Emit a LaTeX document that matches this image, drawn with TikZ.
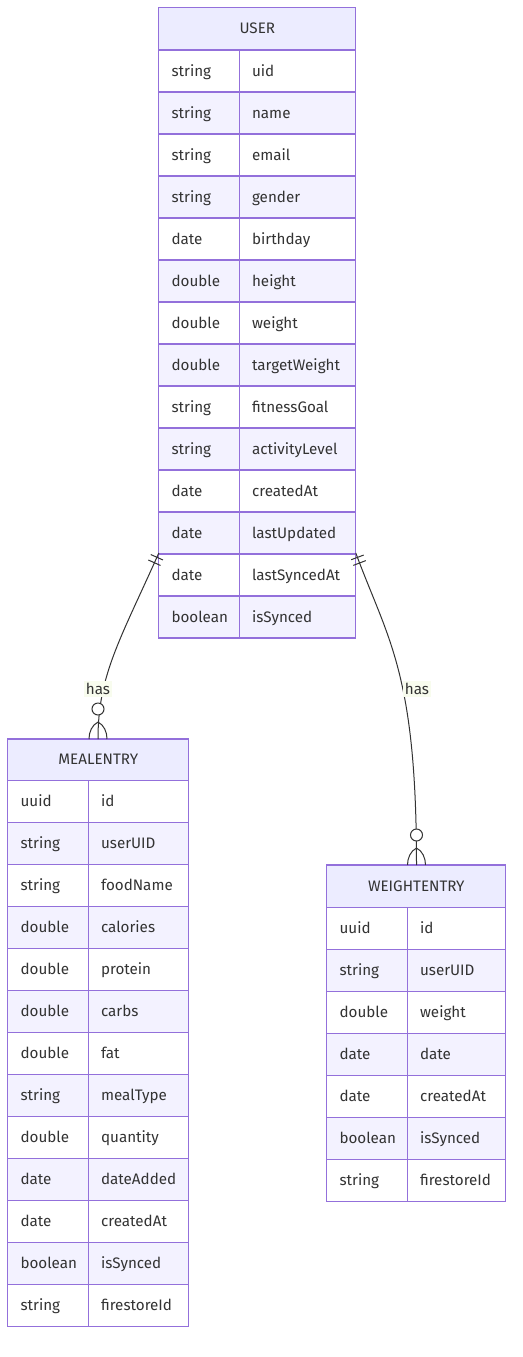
\documentclass[tikz,border=0pt]{standalone}
\usepackage{fontspec}
\setmainfont{Fira Sans}
\usetikzlibrary{decorations.markings}
\definecolor{erborder}{HTML}{9370DB}
\definecolor{erhead}{HTML}{ECECFF}
\definecolor{errow}{HTML}{F3F2FF}
\definecolor{ertext}{HTML}{333333}
\definecolor{erline}{HTML}{333333}
\definecolor{erlabel}{HTML}{F8FCEE}
\tikzset{
  box/.style={draw=erborder, line width=0.9pt},
  hdr/.style={box, fill=erhead},
  rowodd/.style={box, fill=white},
  roweven/.style={box, fill=errow},
  celltxt/.style={text=ertext, anchor=base west, inner sep=0pt},
  headtxt/.style={text=ertext, anchor=base, inner sep=0pt},
  rel/.style={draw=erline, line width=0.75pt},
  onlyone/.style={postaction={decorate, decoration={markings,
      mark=at position 3.5pt with {\draw[erline, line width=0.75pt] (0,-5pt) -- (0,5pt);},
      mark=at position 8pt with {\draw[erline, line width=0.75pt] (0,-5pt) -- (0,5pt);}}}},
  zerocircle/.style={draw=erline, fill=white, line width=0.75pt},
  crow/.style={draw=erline, line width=0.75pt},
  rellabel/.style={fill=erlabel, text=ertext, inner sep=1.5pt},
}
\newcommand\erentity[8]{%
  \draw[hdr] (#3,#6) rectangle (#5,#7);
  \node[headtxt] (#1) at ({(#3+#5)/2},{(#6+#7)/2+5}) {#2};
  \foreach [count=\i] \tt/\nn in {#8} {
    \pgfmathsetmacro\ya{#7+(\i-1)*42}
    \pgfmathsetmacro\yb{#7+\i*42}
    \ifodd\i \def\rs{rowodd}\else\def\rs{roweven}\fi
    \draw[\rs] (#3,\ya) rectangle (#4,\yb);
    \draw[\rs] (#4,\ya) rectangle (#5,\yb);
    \node[celltxt] (#1-t\i) at (#3+12.5,{(\ya+\yb)/2+5}) {\tt};
    \node[celltxt] (#1-n\i) at (#4+12.5,{(\ya+\yb)/2+5}) {\nn};
  }
}
\begin{document}
\begin{tikzpicture}[x=0.75pt,y=-0.75pt,font=\fontsize{11.4pt}{13pt}\selectfont]
\fill[white] (0,0) rectangle (522,1357);
\useasboundingbox (0,0) rectangle (522,1357);

\erentity{user}{USER}{158.8}{239.3}{355.8}{7.5}{50}{string/uid,string/name,string/email,string/gender,date/birthday,double/height,double/weight,double/targetWeight,string/fitnessGoal,string/activityLevel,date/createdAt,date/lastUpdated,date/lastSyncedAt,boolean/isSynced}

\erentity{meal}{MEALENTRY}{7.8}{88.3}{188.7}{739}{780.7}{uuid/id,string/userUID,string/foodName,double/calories,double/protein,double/carbs,double/fat,string/mealType,double/quantity,date/dateAdded,date/createdAt,boolean/isSynced,string/firestoreId}

\erentity{weight}{WEIGHTENTRY}{326.8}{407.3}{505.8}{865}{907.7}{uuid/id,string/userUID,double/weight,date/date,date/createdAt,boolean/isSynced,string/firestoreId}

% connection points
\coordinate (uL) at (158.8,553);
\coordinate (uR) at (355.8,553);
\coordinate (mT) at (98,739);
\coordinate (wT) at (416.5,865);

% USER -> MEALENTRY
\path[rel, onlyone] (uL) .. controls (120,640) and (98,675) .. (mT);
\draw[crow] (mT) ++(0,-17) .. controls +(-6,3) and +(0,-7) .. ++(-9,17);
\draw[crow] (mT) ++(0,-17) .. controls +(6,3) and +(0,-7) .. ++(9,17);
\draw[zerocircle] (mT) ++(0,-30) circle[radius=4.5pt];
\node[rellabel] (lblMeal) at (98,689) {has};

% USER -> WEIGHTENTRY
\path[rel, onlyone] (uR) .. controls (388,640) and (416.5,672) .. (wT);
\draw[crow] (wT) ++(0,-17) .. controls +(-6,3) and +(0,-7) .. ++(-9,17);
\draw[crow] (wT) ++(0,-17) .. controls +(6,3) and +(0,-7) .. ++(9,17);
\draw[zerocircle] (wT) ++(0,-30) circle[radius=4.5pt];
\node[rellabel] (lblWeight) at (417,689) {has};
\end{tikzpicture}
\end{document}
